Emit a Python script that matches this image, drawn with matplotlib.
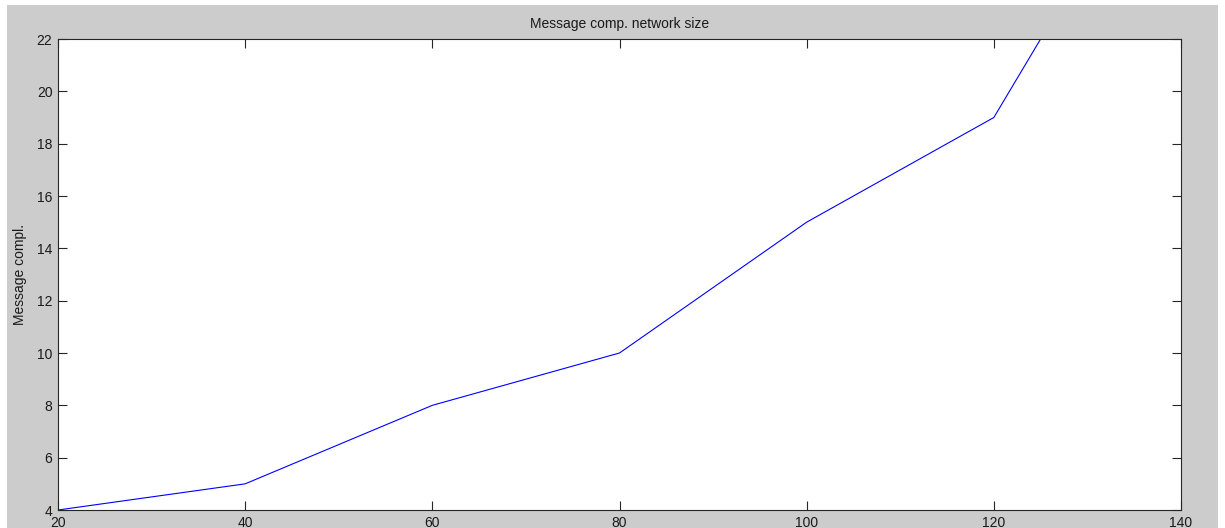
import matplotlib
matplotlib.use("Agg")
import matplotlib.pyplot as plt
from matplotlib.patches import Rectangle

# Message complexity versus network size
network_size = [20, 40, 60, 80, 100, 120, 140]
message_compl = [4, 5, 8, 10, 15, 19, 31]
x_ticks = [20, 40, 60, 80, 100, 120, 140]
y_ticks = [4, 6, 8, 10, 12, 14, 16, 18, 20, 22]

plt.rcParams['font.family'] = ['Liberation Sans', 'DejaVu Sans']
plt.rcParams['font.size'] = 10

W, H = 1225, 528
fig = plt.figure(figsize=(W / 100, H / 100), dpi=100, facecolor='white')

# grey figure panel, kept behind the axes
fig.patches.append(Rectangle((7 / W, 0), (1218 - 7) / W, (H - 5) / H,
                             transform=fig.transFigure, facecolor='#cccccc',
                             edgecolor='none', zorder=-10))

left, right, top, bottom = 58, 1181, 39, 510
ax = fig.add_axes([left / W, 1 - bottom / H, (right - left) / W, (bottom - top) / H])
ax.set_zorder(1)
ax.set_facecolor('white')

ax.plot(network_size, message_compl, color='#0000ff', linewidth=0.8)

ax.set_xlim(20, 140)
ax.set_ylim(4, 22)
ax.set_xticks(x_ticks)
ax.set_yticks(y_ticks)
ax.tick_params(direction='in', length=6.5, width=0.8, color='#262626',
               top=True, right=True, labelsize=10, labelcolor='#1a1a1a')
ax.tick_params(axis='x', pad=4)
ax.tick_params(axis='y', pad=4)
for s in ax.spines.values():
    s.set_linewidth(0.8)
    s.set_color('#262626')

ax.set_title('Message comp. network size', fontsize=10, pad=8, color='#1a1a1a')
ax.set_ylabel('Message compl.', fontsize=10, color='#1a1a1a')
ax.yaxis.set_label_coords((27 - left) / (right - left), 0.5)

fig.savefig('out.png', dpi=100, facecolor=fig.get_facecolor())
